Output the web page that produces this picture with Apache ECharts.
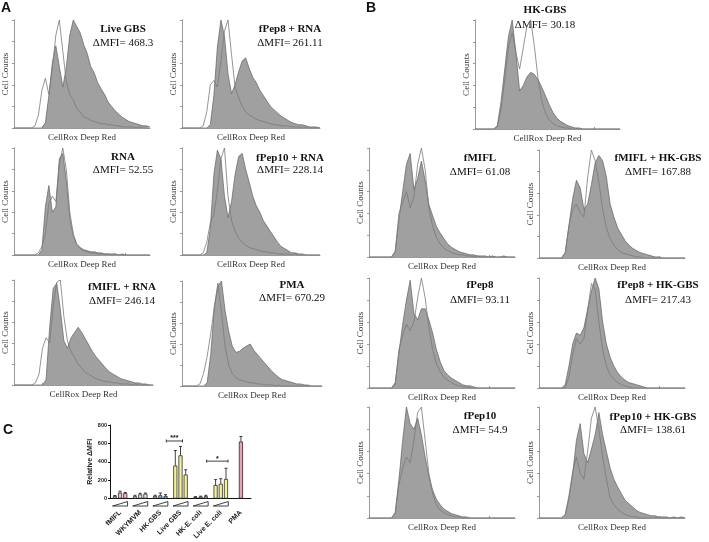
<!DOCTYPE html>
<html>
<head>
<meta charset="utf-8">
<script src="https://cdn.jsdelivr.net/npm/echarts@6/dist/echarts.min.js"></script>
<style>
html, body { margin: 0; padding: 0; background: #fff; }
#main { width: 709px; height: 542px; }
</style>
</head>
<body>
<div id="main"></div>
<script>
// histogram bins (CellRox Deep Red channel, 40 bins per panel)
const bins = Array.from({ length: 40 }, (_, i) => i);

// panel A : ctrl = open histogram, trt = filled histogram (% of max count)
const liveGbsCtrl = [0,0,0,0,0,0,2,12,35,46, 31,56,86,100,71,43,31,26,18,15, 10,9,7,6,5,4,4,3,3,2, 2,1,1,1,1,0,1,0,0,0];
const liveGbsTrt  = [0,0,0,0,0,0,0,0,0,5, 30,60,76,57,38,56,86,100,94,88, 77,69,57,51,42,36,31,24,20,16, 13,10,8,6,5,4,3,2,2,1];
const pep8RnaCtrl = [0,0,0,0,0,0,2,15,40,44, 38,62,90,100,68,38,28,20,15,12, 10,8,7,6,5,4,3,3,2,2, 2,1,1,1,0,1,0,0,0,0];
const pep8RnaTrt  = [0,0,0,0,0,0,0,0,3,30, 75,100,85,50,32,40,52,62,65,55, 47,42,35,30,25,20,17,14,11,9, 7,5,4,3,3,2,1,1,1,0];
const rnaCtrl     = [0,0,0,0,0,0,0,2,8,20, 48,55,50,85,100,80,40,20,10,6, 4,3,2,2,1,1,1,1,0,1, 0,0,0,0,0,0,0,0,0,0];
const rnaTrt      = [0,0,0,0,0,0,0,0,5,45, 65,40,45,90,95,70,35,18,10,7, 5,4,3,3,2,2,1,1,1,1, 0,1,0,0,0,0,0,0,0,0];
const pep10RnaCtrl = [0,0,0,0,0,0,2,12,30,38, 60,90,100,55,32,22,16,12,9,7, 6,5,4,3,3,2,2,1,1,1, 1,0,1,0,0,0,0,0,0,0];
const pep10RnaTrt  = [0,0,0,0,0,0,0,2,25,75, 98,90,55,35,50,75,92,95,80,68, 55,46,40,32,27,22,17,12,8,6, 4,2,2,1,1,0,0,0,0,0];
const mifRnaCtrl  = [0,0,0,0,0,0,2,10,35,45, 40,75,98,100,65,42,32,26,20,16, 12,10,8,6,5,4,3,3,2,2, 1,1,1,0,1,0,0,0,0,0];
const mifRnaTrt   = [0,0,0,0,0,0,0,0,0,5, 55,92,97,72,42,35,45,50,55,50, 44,38,32,27,23,19,15,12,10,8, 6,5,4,3,2,2,1,1,0,0];
const pmaCtrl     = [0,0,0,0,0,2,12,28,50,75, 98,70,38,20,12,8,6,5,4,3, 3,2,2,1,1,1,0,1,0,0, 0,0,0,0,0,0,0,0,0,0];
const pmaTrt      = [0,0,0,0,0,0,0,3,30,75, 95,100,72,52,38,32,33,36,38,40, 34,30,26,22,18,14,11,8,6,5, 4,3,2,2,1,1,0,0,0,0];

// panel B
const hkGbsCtrl   = [0,0,0,0,0,0,2,18,45,75, 88,70,55,75,95,100,75,45,25,14, 8,5,3,2,1,1,0,0,0,0, 0,0,0,0,0,0,0,0,0,0];
const hkGbsTrt    = [0,0,0,0,0,0,3,25,55,85, 100,70,35,40,48,52,50,45,38,30, 22,15,10,7,5,3,2,1,1,0, 0,0,0,0,0,0,0,0,0,0];
const mifCtrl     = [0,0,0,0,0,0,0,5,40,50, 60,45,55,85,100,80,45,28,18,12, 8,6,4,3,2,2,1,1,0,1, 0,0,0,0,0,0,0,0,0,0];
const mifTrt      = [0,0,0,0,0,0,0,5,35,60, 85,95,62,72,88,70,48,38,28,22, 17,12,9,7,5,4,3,2,2,1, 1,1,0,1,0,0,1,0,0,0];
const mifHkCtrl   = [0,0,0,0,0,0,0,5,30,45, 50,42,38,75,100,90,70,45,28,18, 12,8,5,4,3,2,1,1,0,0, 0,0,0,0,0,0,0,0,0,0];
const mifHkTrt    = [0,0,0,0,0,0,0,5,30,55, 72,65,45,50,68,88,95,90,75,50, 38,28,22,16,12,9,7,5,4,3, 2,1,1,0,0,0,0,0,0,0];
const pep8Ctrl    = [0,0,0,0,0,0,0,3,35,48, 58,52,60,82,100,82,55,35,22,15, 10,7,5,3,2,1,1,0,0,0, 0,0,0,0,0,0,0,0,0,0];
const pep8Trt     = [0,0,0,0,0,0,0,5,32,58, 80,98,68,62,72,72,62,50,35,24, 16,12,9,7,5,3,2,2,1,0, 0,0,0,0,0,0,0,0,0,0];
const pep8HkCtrl  = [0,0,0,0,0,0,0,0,10,30, 45,40,45,70,95,90,60,35,20,12, 8,5,3,2,1,0,0,0,0,0, 0,0,0,0,0,0,0,0,0,0];
const pep8HkTrt   = [0,0,0,0,0,0,0,3,20,40, 50,48,55,72,88,100,90,60,40,28, 20,14,10,7,5,4,3,2,1,0, 0,0,0,0,0,0,0,0,0,0];
const pep10Ctrl   = [0,0,0,0,0,0,0,4,30,45, 55,50,70,95,100,70,40,22,12,7, 5,3,2,1,1,0,0,0,0,0, 0,0,0,0,0,0,0,0,0,0];
const pep10Trt    = [0,0,0,0,0,0,0,5,35,70, 100,85,80,90,75,55,38,25,17,12, 8,6,4,3,2,1,1,0,0,0, 0,0,0,0,0,0,0,0,0,0];
const pep10HkCtrl = [0,0,0,0,0,0,0,3,20,42, 55,40,35,60,90,100,80,55,35,18, 12,8,5,3,2,1,1,0,0,0, 0,0,0,0,0,0,0,0,0,0];
const pep10HkTrt  = [0,0,0,0,0,0,0,3,18,40, 70,85,58,50,62,75,95,75,60,45, 35,28,22,16,13,10,7,5,4,3, 2,2,1,1,1,0,1,0,1,0];

// panel C : relative dMFI, three doses per stimulus
const groups   = ['fMIFL', 'WKYMVM', 'HK-GBS', 'Live GBS', 'HK-E. coli', 'Live E. coli', 'PMA'];
const lowDose  = [25, 25, 28, 358, 17, 146, null];
const midDose  = [65, 45, 35, 470, 21, 160, 620];
const highDose = [58, 52, 28, 261, 25, 212, null];
const lowErr   = [8, 10, 8, 164, 4, 60, null];
const midErr   = [15, 12, 25, 97, 5, 56, 55];
const highErr  = [8, 8, 15, 52, 10, 118, null];
const sigGroups = [3, 5];
const sigLevels = [626, 407];
const sigLabels = ['***', '*'];

const groupColors = ['#f3b9cd', '#e4e4e4', '#8fc4ea', '#f6f29b', '#8fc4ea', '#f6f29b', '#eaa3b4'];

// layout of each histogram : box = grid [left, top, width, height], txt = [x, title y, dMFI y]
const histPanels = [
  { title: 'Live GBS', mfi: 'ΔMFI= 468.3', ctrl: liveGbsCtrl, trt: liveGbsTrt, box: [12, 20, 138, 108], txt: [123, 29, 43] },
  { title: 'fPep8 + RNA', mfi: 'ΔMFI= 261.11', ctrl: pep8RnaCtrl, trt: pep8RnaTrt, box: [182, 20, 138, 108], txt: [290, 29, 43] },
  { title: 'RNA', mfi: 'ΔMFI= 52.55', ctrl: rnaCtrl, trt: rnaTrt, box: [12, 148, 138, 107], txt: [123, 157, 170] },
  { title: 'fPep10 + RNA', mfi: 'ΔMFI= 228.14', ctrl: pep10RnaCtrl, trt: pep10RnaTrt, box: [182, 148, 138, 107], txt: [290, 158, 170] },
  { title: 'fMIFL + RNA', mfi: 'ΔMFI= 246.14', ctrl: mifRnaCtrl, trt: mifRnaTrt, box: [13, 280, 140, 105], txt: [122, 287, 301] },
  { title: 'PMA', mfi: 'ΔMFI= 670.29', ctrl: pmaCtrl, trt: pmaTrt, box: [182, 281, 140, 105], txt: [292, 285, 298] },
  { title: 'HK-GBS', mfi: 'ΔMFI= 30.18', ctrl: hkGbsCtrl, trt: hkGbsTrt, box: [475, 20, 145, 109], txt: [545, 10, 25] },
  { title: 'fMIFL', mfi: 'ΔMFI= 61.08', ctrl: mifCtrl, trt: mifTrt, box: [369, 148, 146, 109], txt: [480, 158, 172] },
  { title: 'fMIFL + HK-GBS', mfi: 'ΔMFI= 167.88', ctrl: mifHkCtrl, trt: mifHkTrt, box: [539, 150, 146, 108], txt: [658, 158, 172] },
  { title: 'fPep8', mfi: 'ΔMFI= 93.11', ctrl: pep8Ctrl, trt: pep8Trt, box: [369, 278, 146, 110], txt: [480, 285, 300] },
  { title: 'fPep8 + HK-GBS', mfi: 'ΔMFI= 217.43', ctrl: pep8HkCtrl, trt: pep8HkTrt, box: [539, 278, 146, 110], txt: [658, 285, 300] },
  { title: 'fPep10', mfi: 'ΔMFI= 54.9', ctrl: pep10Ctrl, trt: pep10Trt, box: [369, 407, 146, 111], txt: [480, 416, 430] },
  { title: 'fPep10 + HK-GBS', mfi: 'ΔMFI= 138.61', ctrl: pep10HkCtrl, trt: pep10HkTrt, box: [539, 407, 146, 111], txt: [653, 417, 430] }
];

const serif = '"Liberation Serif", "DejaVu Serif", serif';
const sans = '"Liberation Sans", Arial, sans-serif';

const grids = [], xAxes = [], yAxes = [], series = [], graphics = [];

function label(x, y, text, font) {
  return { type: 'text', x: x, y: y, style: { text: text, font: font, fill: '#111', align: 'center', verticalAlign: 'middle', textAlign: 'center', textVerticalAlign: 'middle' } };
}

histPanels.forEach(function (p, k) {
  grids.push({ left: p.box[0], top: p.box[1], width: p.box[2], height: p.box[3] });
  xAxes.push({
    gridIndex: k, type: 'category', data: bins, boundaryGap: false,
    name: 'CellRox Deep Red', nameLocation: 'middle', nameGap: 5,
    nameTextStyle: { fontFamily: serif, fontSize: 9, color: '#333' },
    axisLine: { lineStyle: { color: '#9a9a9a', width: 1 } },
    axisTick: { show: true, inside: true, length: 2, interval: 7, lineStyle: { color: '#9a9a9a' } },
    axisLabel: { show: false }, splitLine: { show: false }
  });
  yAxes.push({
    gridIndex: k, type: 'value', min: 0, max: 100, interval: 20,
    name: 'Cell Counts', nameLocation: 'middle', nameGap: 4,
    nameTextStyle: { fontFamily: serif, fontSize: 9, color: '#333' },
    axisLine: { show: true, lineStyle: { color: '#9a9a9a', width: 1 } },
    axisTick: { show: true, length: 2, lineStyle: { color: '#9a9a9a' } },
    axisLabel: { show: false }, splitLine: { show: false }
  });
  series.push({
    type: 'line', xAxisIndex: k, yAxisIndex: k, data: p.trt, symbol: 'none', silent: true,
    lineStyle: { color: '#616161', width: 0.7 },
    areaStyle: { color: '#a0a0a0', opacity: 1 }, z: 2
  });
  series.push({
    type: 'line', xAxisIndex: k, yAxisIndex: k, data: p.ctrl, symbol: 'none', silent: true,
    lineStyle: { color: '#7a7a7a', width: 0.8 }, z: 3
  });
  graphics.push(label(p.txt[0], p.txt[1], p.title, 'bold 11px ' + serif));
  graphics.push(label(p.txt[0], p.txt[2], p.mfi, '11px ' + serif));
});

// panel C
const cg = histPanels.length;
const barStep = 5.2;
grids.push({ left: 110, top: 425, width: 141, height: 77 });
xAxes.push({
  gridIndex: cg, type: 'category', data: groups,
  axisLine: { lineStyle: { color: '#111', width: 1 } },
  axisTick: { show: false },
  axisLabel: { interval: 0, rotate: 45, margin: 13, fontFamily: sans, fontWeight: 'bold', fontSize: 7, color: '#222' }
});
yAxes.push({
  gridIndex: cg, type: 'value', min: 0, max: 800, interval: 200,
  name: 'Relative ΔMFI', nameLocation: 'middle', nameGap: 14,
  nameTextStyle: { fontFamily: sans, fontWeight: 'bold', fontSize: 7, color: '#222' },
  axisLine: { show: true, lineStyle: { color: '#111', width: 1 } },
  axisTick: { show: true, length: 2, lineStyle: { color: '#111' } },
  axisLabel: { margin: 3, fontFamily: sans, fontWeight: 'bold', fontSize: 5.5, color: '#222' },
  splitLine: { show: false }
});

const doseSeries = [lowDose, midDose, highDose];
const doseErr = [lowErr, midErr, highErr];
doseSeries.forEach(function (vals) {
  series.push({
    type: 'bar', xAxisIndex: cg, yAxisIndex: cg, barWidth: 4, barGap: '30%', z: 3,
    data: vals.map(function (v, g) {
      return v == null ? '-' : { value: v, itemStyle: { color: groupColors[g] } };
    }),
    itemStyle: { borderColor: '#111', borderWidth: 0.7 }
  });
});

const errData = [];
groups.forEach(function (g, gi) {
  doseSeries.forEach(function (vals, d) {
    if (vals[gi] != null) errData.push([gi, vals[gi], doseErr[d][gi], d]);
  });
});
series.push({
  type: 'custom', xAxisIndex: cg, yAxisIndex: cg, data: errData, z: 2,
  renderItem: function (params, api) {
    const base = api.coord([api.value(0), api.value(1)]);
    const top = api.coord([api.value(0), api.value(1) + api.value(2)]);
    const x = base[0] + (api.value(3) - 1) * barStep;
    return { type: 'group', children: [
      { type: 'line', shape: { x1: x, y1: base[1], x2: x, y2: top[1] }, style: { stroke: '#111', lineWidth: 0.8 } },
      { type: 'line', shape: { x1: x - 1.5, y1: top[1], x2: x + 1.5, y2: top[1] }, style: { stroke: '#111', lineWidth: 0.8 } }
    ] };
  }
});

// dose wedges under each stimulus group (not PMA)
series.push({
  type: 'custom', xAxisIndex: cg, yAxisIndex: cg, z: 4,
  data: groups.slice(0, 6).map(function (g, i) { return [i, 0]; }),
  renderItem: function (params, api) {
    const c = api.coord([api.value(0), 0]);
    return {
      type: 'polygon',
      shape: { points: [[c[0] - 7.5, c[1] + 7.5], [c[0] + 7.5, c[1] + 7.5], [c[0] + 7.5, c[1] + 3]] },
      style: { fill: '#fff', stroke: '#111', lineWidth: 0.8 }
    };
  }
});

// significance brackets
series.push({
  type: 'custom', xAxisIndex: cg, yAxisIndex: cg, z: 4,
  data: sigGroups.map(function (g, i) { return [g, sigLevels[i], i]; }),
  renderItem: function (params, api) {
    const i = api.value(2);
    const c = api.coord([api.value(0), api.value(1)]);
    const x1 = c[0] - barStep - 9;
    const x2 = i === 0 ? c[0] + 2 : c[0] + barStep + 2;
    const st = { stroke: '#111', lineWidth: 0.8 };
    return { type: 'group', children: [
      { type: 'line', shape: { x1: x1, y1: c[1], x2: x2, y2: c[1] }, style: st },
      { type: 'line', shape: { x1: x1, y1: c[1] - 1.5, x2: x1, y2: c[1] + 1.5 }, style: st },
      { type: 'line', shape: { x1: x2, y1: c[1] - 1.5, x2: x2, y2: c[1] + 1.5 }, style: st },
      { type: 'text', style: { text: sigLabels[i], x: (x1 + x2) / 2, y: c[1] + 1, font: 'bold 7px ' + sans, fill: '#111', align: 'center', verticalAlign: 'bottom', textAlign: 'center', textVerticalAlign: 'bottom' } }
    ] };
  }
});

// panel letters
[['A', 6, 8], ['B', 371, 8], ['C', 8, 430]].forEach(function (l) {
  graphics.push(label(l[1], l[2], l[0], 'bold 14px ' + sans));
});

const chart = echarts.init(document.getElementById('main'));
chart.setOption({
  animation: false,
  backgroundColor: '#fff',
  grid: grids,
  xAxis: xAxes,
  yAxis: yAxes,
  series: series,
  graphic: graphics
});
</script>
</body>
</html>
